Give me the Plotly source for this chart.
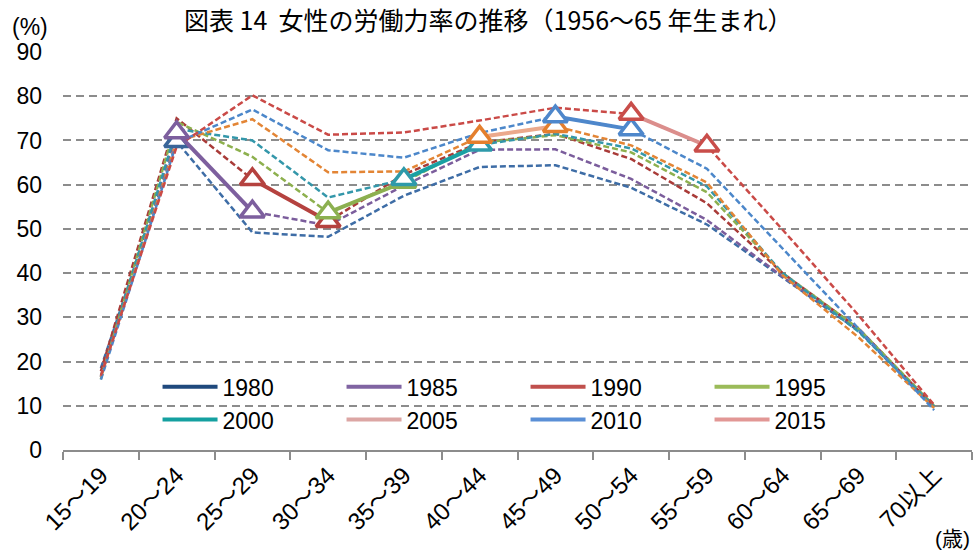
import plotly.graph_objects as go

ages = ["15～19", "20～24", "25～29", "30～34", "35～39", "40～44",
        "45～49", "50～54", "55～59", "60～64", "65～69", "70以上"]
years = ["1980", "1985", "1990", "1995", "2000", "2005", "2010", "2015"]

r1980 = [18.5, 69.8, 49.2, 48.2, 57.5, 64.0, 64.4, 59.3, 51.0, 39.0, 27.0, 9.5]
r1985 = [16.6, 71.8, 53.9, 50.8, 59.8, 67.9, 68.0, 61.3, 52.0, 39.2, 27.5, 9.5]
r1990 = [17.8, 75.0, 61.2, 51.7, 62.3, 69.5, 71.5, 65.8, 55.8, 40.0, 27.5, 9.8]
r1995 = [16.0, 74.2, 66.3, 53.7, 60.6, 69.5, 71.2, 67.3, 58.3, 40.0, 27.5, 10.0]
r2000 = [16.6, 72.6, 70.0, 57.1, 61.2, 69.0, 71.5, 68.2, 59.6, 40.0, 26.8, 9.8]
r2005 = [16.5, 69.8, 74.8, 62.8, 63.0, 70.8, 73.2, 68.9, 60.5, 39.5, 25.5, 9.5]
r2010 = [15.9, 69.5, 77.0, 67.8, 66.1, 71.7, 75.4, 72.5, 63.6, 45.5, 27.5, 9.0]
r2015 = [16.8, 68.6, 80.2, 71.3, 71.8, 74.5, 77.4, 76.0, 68.8, 49.8, 30.5, 10.2]
rates = [r1980, r1985, r1990, r1995, r2000, r2005, r2010, r2015]

# age index of the 1961-65 cohort (younger) and 1956-60 cohort (older) in each survey year
young_idx = [0, 1, 2, 3, 4, 5, 6, 7]
old_idx = [1, 2, 3, 4, 5, 6, 7, 8]
show_young = [False, True, True, True, True, True, True, True]

dash_colors = ["#3E6DA6", "#7B5D9C", "#A93B38", "#8DB04E", "#3497AA", "#E38535", "#4C87CA", "#CA4A47"]
seg_colors = ["#2F5B90", "#7D5F9E", "#B5423F", "#8CB050", "#19A0A3", "#EBA98C", "#4E87CB", "#DB8E8C"]
marker_colors = ["#3A6699", "#7D5F9E", "#B5423F", "#8CB050", "#2E9AAA", "#E47F2E", "#4E87CB", "#C94D4A"]
legend_colors = ["#1F497D", "#8064A2", "#C0504D", "#9BBB59", "#14A0A0", "#DCA6A4", "#5A8FD6", "#E29795"]

FONT = "Liberation Sans, Noto Sans CJK JP, sans-serif"
GRID = "#8C8C8C"

fig = go.Figure()

# dashed full age profiles
for yr, vals, c in zip(years, rates, dash_colors):
    fig.add_trace(go.Scatter(
        x=ages, y=vals, mode="lines", showlegend=False,
        line=dict(color=c, width=2.5, dash="6px,3px"),
        hoverinfo="skip"))

# cohort segments with triangle markers
for i, (yr, vals) in enumerate(zip(years, rates)):
    if show_young[i]:
        xi = [ages[young_idx[i]], ages[old_idx[i]]]
        yi = [vals[young_idx[i]], vals[old_idx[i]]]
        mode = "lines+markers"
    else:
        xi = [ages[old_idx[i]]]
        yi = [vals[old_idx[i]]]
        mode = "markers"
    fig.add_trace(go.Scatter(
        x=xi, y=yi, mode=mode, showlegend=False,
        line=dict(color=seg_colors[i], width=4),
        marker=dict(symbol="triangle-up", size=21, color="white",
                    line=dict(color=marker_colors[i], width=3.5)),
        hoverinfo="skip"))

# legend entries
for yr, c in zip(years, legend_colors):
    fig.add_trace(go.Scatter(
        x=[None], y=[None], mode="lines", name=yr,
        line=dict(color=c, width=4)))

fig.update_layout(
    width=974, height=556,
    margin=dict(l=63, r=2, t=52, b=106),
    paper_bgcolor="white", plot_bgcolor="white",
    font=dict(family=FONT, size=22, color="black"),
    showlegend=True,
    legend=dict(
        orientation="h", x=0.104, y=0.213, xanchor="left", yanchor="top",
        entrywidth=114, entrywidthmode="pixels",
        font=dict(size=23, family=FONT), bgcolor="rgba(0,0,0,0)",
        traceorder="normal", itemwidth=55),
    xaxis=dict(
        type="category", range=[-0.5, 11.5], tickson="boundaries",
        showline=True, linecolor=GRID, linewidth=1.5,
        ticks="outside", ticklen=8, tickcolor=GRID, tickwidth=1.5,
        showgrid=False, tickangle=-45,
        tickfont=dict(size=24, family="Liberation Sans, Noto Sans CJK JP")),
    yaxis=dict(
        range=[0, 90], dtick=10, showline=False, zeroline=False,
        showgrid=True, gridcolor=GRID, gridwidth=1.5, griddash="8px,5px",
        ticks="", ticklabelstandoff=20,
        tickfont=dict(size=23, family=FONT)),
    annotations=[
        dict(text="図表 14  女性の労働力率の推移（1956～65 年生まれ）",
             xref="paper", yref="paper", x=0.468, y=1.083,
             xanchor="center", yanchor="middle", showarrow=False,
             font=dict(size=25, family="Noto Sans CJK JP")),
        dict(text="(%)", xref="paper", yref="paper", x=-0.058, y=1.063,
             xanchor="left", yanchor="middle", showarrow=False,
             font=dict(size=23, family=FONT)),
        dict(text="(歳)", xref="paper", yref="paper", x=1.0, y=-0.222,
             xanchor="right", yanchor="middle", showarrow=False,
             font=dict(size=21, family=FONT)),
    ],
)

fig.write_html("out.html")
